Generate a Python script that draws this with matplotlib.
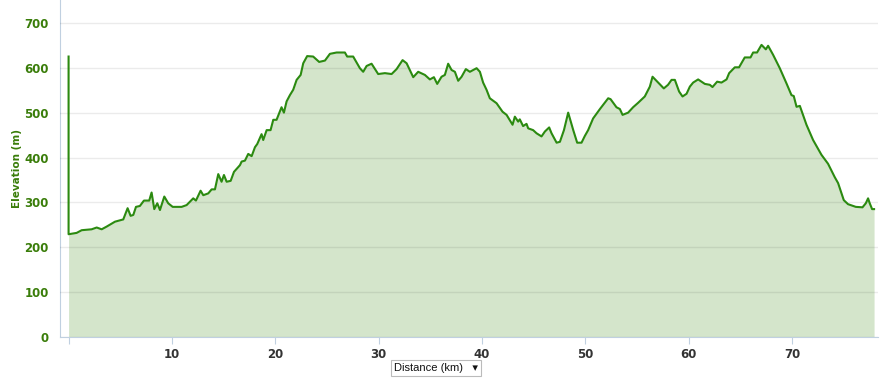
import matplotlib.pyplot as plt

# elevation profile
distance_km = [0.0, 0.0, 0.78, 1.27, 2.23, 2.72, 3.2, 3.68, 4.49, 5.29, 5.71, 6.0, 6.26, 6.52,
               6.9, 7.29, 7.8, 8.03, 8.29, 8.58, 8.84, 9.26, 9.64, 10.07, 10.94, 11.42, 12.06,
               12.32, 12.77, 13.03, 13.51, 13.84, 14.16, 14.48, 14.8, 15.03, 15.29, 15.68, 16.0,
               16.58, 16.74, 17.06, 17.38, 17.71, 18.03, 18.25, 18.67, 18.83, 19.16, 19.54, 19.8,
               20.12, 20.6, 20.83, 21.09, 21.41, 21.73, 22.06, 22.45, 22.7, 23.08, 23.66, 24.24,
               24.8, 25.28, 25.93, 26.73, 26.95, 27.53, 28.18, 28.5, 28.83, 29.31, 29.95, 30.6,
               31.25, 31.73, 32.31, 32.7, 33.34, 33.82, 34.47, 34.95, 35.34, 35.66, 36.08, 36.4,
               36.72, 37.05, 37.37, 37.69, 38.02, 38.43, 38.82, 39.47, 39.79, 40.1, 40.43, 40.75,
               41.4, 41.98, 42.37, 42.95, 43.17, 43.49, 43.65, 43.97, 44.3, 44.46, 44.94, 45.27,
               45.75, 46.08, 46.49, 46.72, 47.21, 47.53, 47.92, 48.33, 48.82, 49.2, 49.62, 49.94,
               50.26, 50.74, 51.4, 52.2, 52.43, 53.0, 53.33, 53.59, 54.13, 54.61, 55.1, 55.74,
               56.23, 56.49, 57.03, 57.58, 57.99, 58.33, 58.65, 59.06, 59.39, 59.78, 60.1, 60.42,
               60.9, 61.55, 62.03, 62.29, 62.74, 63.16, 63.65, 63.9, 64.45, 64.86, 65.41, 65.97,
               66.22, 66.6, 67.03, 67.45, 67.67, 68.15, 68.8, 69.45, 69.93, 70.15, 70.42, 70.74,
               71.38, 72.02, 72.83, 73.47, 74.12, 74.44, 74.99, 75.4, 76.15, 76.8, 77.12, 77.34,
               77.5, 77.73, 77.92]
elevation_m = [625, 229, 232, 238, 240, 244, 240, 246, 257, 262, 287, 270, 272, 290,
               292, 304, 304, 322, 285, 298, 283, 313, 298, 290, 290, 294, 309,
               304, 326, 316, 320, 329, 329, 363, 346, 361, 346, 348, 368,
               383, 391, 393, 408, 403, 423, 430, 452, 439, 461, 461, 484,
               484, 512, 500, 525, 539, 551, 573, 584, 610, 626, 625, 613,
               616, 631, 634, 634, 625, 625, 599, 591, 604, 609, 586, 588,
               586, 597, 617, 610, 579, 591, 584, 574, 579, 564, 580, 584,
               609, 595, 591, 571, 580, 597, 591, 599, 591, 567, 551, 532,
               521, 502, 495, 473, 491, 480, 485, 470, 475, 465, 461, 454,
               447, 458, 467, 454, 433, 435, 461, 500, 461, 433, 433, 448,
               461, 487, 508, 532, 530, 512, 508, 495, 500, 512, 522, 536,
               558, 580, 567, 554, 562, 573, 573, 547, 536, 542, 558, 567,
               574, 564, 562, 557, 569, 567, 574, 588, 601, 601, 623, 623,
               634, 634, 651, 641, 649, 629, 599, 565, 539, 537, 513, 515,
               473, 439, 406, 386, 356, 343, 305, 296, 290, 289, 298, 309,
               298, 285, 285]

x_ticks = [0, 10, 20, 30, 40, 50, 60, 70]
x_tick_labels = ['', '10', '20', '30', '40', '50', '60', '70']
y_ticks = [0, 100, 200, 300, 400, 500, 600, 700]

fig = plt.figure(figsize=(8.8, 3.81), dpi=100)
ax = fig.add_axes([60 / 880, 44 / 381, 818 / 880, 337 / 381])

ax.fill_between(distance_km, elevation_m, 0, color='#d4e5cb', linewidth=0, zorder=1)
ax.plot(distance_km, elevation_m, color='#2b8a10', linewidth=1.5, zorder=3)

ax.set_xlim(-0.83, 78.3)
ax.set_ylim(0, 751)

ax.set_axisbelow(False)
ax.yaxis.grid(True, color='black', alpha=0.08, linewidth=1)

ax.set_xticks(x_ticks)
ax.set_xticklabels(x_tick_labels)
ax.set_yticks(y_ticks)

for lab in ax.get_xticklabels():
    lab.set_fontweight('bold')
    lab.set_color('#333333')
    lab.set_fontsize(8.5)
for lab in ax.get_yticklabels():
    lab.set_fontweight('bold')
    lab.set_color('#3a7d0a')
    lab.set_fontsize(8.5)

ax.tick_params(axis='x', length=5, color='#c0d0e0', pad=3)
ax.tick_params(axis='y', length=0, pad=8)

for side in ['top', 'right']:
    ax.spines[side].set_visible(False)
ax.spines['left'].set_color('#c0d0e0')
ax.spines['bottom'].set_color('#c0d0e0')

fig.text(17 / 880, 1 - 168 / 381, 'Elevation (m)', rotation=90, ha='center', va='center',
         fontsize=7.5, fontweight='bold', color='#3a7d0a')

# distance selector box under the chart
fig.text(436 / 880, 1 - 368 / 381, 'Distance (km)   \u25be', ha='center', va='center',
         fontsize=8, color='#111111', family=['Liberation Sans', 'DejaVu Sans'],
         bbox=dict(boxstyle='square,pad=0.3', facecolor='white', edgecolor='#bbbbbb', linewidth=0.8))

fig.savefig('out.png', dpi=100)
